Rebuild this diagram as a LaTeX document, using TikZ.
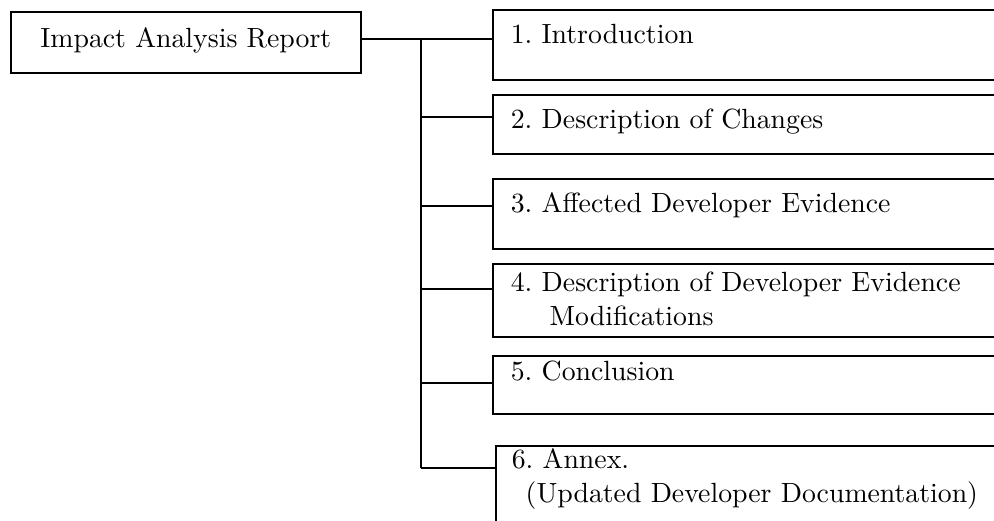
\documentclass[tikz,border=0pt]{standalone}
\newlength{\unitpx}
\setlength{\unitpx}{0.36pt}
\tikzset{
  rootbox/.style={draw, line width=0.6pt, anchor=north west, inner sep=0pt,
    minimum width=350\unitpx, text height=36\unitpx, text depth=25\unitpx},
  itembox/.style={draw, line width=0.6pt, anchor=north west, inner xsep=18\unitpx,
    inner ysep=0pt, text width=480\unitpx, align=left},
  link/.style={line width=0.55pt},
}
\begin{document}
\begin{tikzpicture}[x=0.36pt, y=-0.36pt, font=\fontsize{10}{12}\selectfont\frenchspacing]
  \useasboundingbox (0,0) rectangle (994,520);
  \clip (0,0) rectangle (994,520);
  % 1) Report box on the left
  \node[rootbox] (report) at (10,11) {Impact Analysis Report};
  % 2) Chapter boxes, open to the right edge
  \node[itembox, text height=34\unitpx, text depth=36\unitpx] (c1) at (492,9)
       {1. Introduction};
  \node[itembox, text height=34\unitpx, text depth=25\unitpx] (c2) at (492,94)
       {2. Description of Changes};
  \node[itembox, text height=34\unitpx, text depth=36\unitpx] (c3) at (492,178)
       {3. Affected Developer Evidence};
  \node[itembox, text height=28\unitpx, text depth=45\unitpx] (c4) at (492,263)
       {4. Description of Developer Evidence\\\hspace*{14pt}Modifications};
  \node[itembox, text height=25\unitpx, text depth=33\unitpx] (c5) at (492,355)
       {5. Conclusion};
  \node[itembox, inner xsep=16\unitpx, text height=23\unitpx, text depth=90\unitpx] (c6) at (495,445)
       {6. Annex.\\\hspace*{5pt}(Updated Developer Documentation)};
  % 3) Trunk with one branch per chapter
  \foreach \i/\yy in {1/39,2/117,3/206,4/289,5/383,6/468}
    \coordinate (j\i) at (421,\yy);
  \draw[link] (report.east |- j1) -- (j1);
  \draw[link] (j1) -- (j6);
  \foreach \i in {1,...,6}
    \draw[link] (j\i) -- (j\i -| c\i.west);
\end{tikzpicture}
\end{document}
